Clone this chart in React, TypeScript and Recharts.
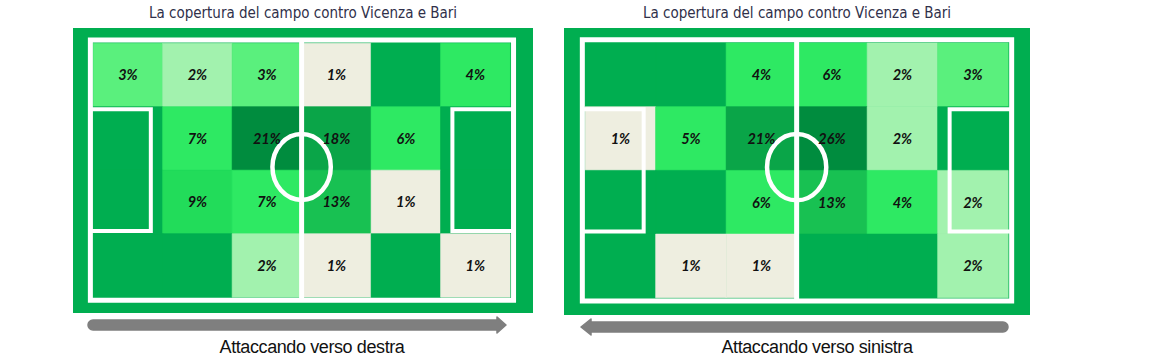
import React from 'react';
import {
  ComposedChart,
  XAxis,
  YAxis,
  ReferenceArea,
  ReferenceLine,
  ReferenceDot,
  Scatter,
} from 'recharts';

// percentuali per zona, righe dall'alto verso il basso (null = zona senza valore)
const destraRows: (number | null)[][] = [
  [3, 2, 3, 1, null, 4],
  [null, 7, 21, 18, 6, null],
  [null, 9, 7, 13, 1, null],
  [null, null, 2, 1, null, 1],
];

const sinistraRows: (number | null)[][] = [
  [null, null, 4, 6, 2, 3],
  [1, 5, 21, 26, 2, null],
  [null, null, 6, 13, 4, 2],
  [null, 1, 1, null, null, 2],
];

const TITLE = 'La copertura del campo contro Vicenza e Bari';
const CAPTION_DESTRA = 'Attaccando verso destra';
const CAPTION_SINISTRA = 'Attaccando verso sinistra';

const GRASS = '#00ae50';
const LINE = '#ffffff';
const H = 363;

function cellColor(v: number | null, max: number) {
  if (v == null) return GRASS;
  if (v === max) return '#008c3e';
  if (v >= 15) return '#0aa548';
  if (v >= 10) return '#18c152';
  if (v >= 8) return '#22dc5a';
  if (v >= 4) return '#2ee963';
  if (v === 3) return '#5af07d';
  if (v === 2) return '#a2f2ae';
  return '#eeeee0';
}

interface PitchProps {
  rows: (number | null)[][];
  left: number;
  width: number;
  bottom: number;
  xDomain: [number, number];
  yDomain: [number, number];
  caption: string;
  captionX: number;
  arrow: 'right' | 'left';
}

function Pitch({ rows, left, width, bottom, xDomain, yDomain, caption, captionX, arrow }: PitchProps) {
  const margin = { top: 28, right: 0, bottom, left: 0 };
  const max = Math.max(...rows.flat().map((v) => v ?? 0));
  const cells = rows.flatMap((row, r) => row.map((v, c) => ({ r, c, v })));
  const labels = cells
    .filter((d) => d.v != null)
    .map((d) => ({ x: d.c + 0.5, y: d.r + 0.5, text: `${d.v}%` }));
  const pxX = width / (xDomain[1] - xDomain[0]);
  const pxY = (H - margin.top - margin.bottom) / (yDomain[1] - yDomain[0]);

  return (
    <div style={{ position: 'absolute', left, top: 0, width, height: H }}>
      <div
        style={{
          position: 'absolute',
          left: 0,
          top: 4,
          width,
          textAlign: 'center',
          fontFamily: "'Liberation Sans Narrow', 'DejaVu Sans Condensed', sans-serif",
          fontSize: 15,
          color: '#30304a',
        }}
      >
        {TITLE}
      </div>
      <ComposedChart width={width} height={H} margin={margin}>
        <XAxis dataKey="x" type="number" domain={xDomain} hide />
        <YAxis dataKey="y" type="number" domain={yDomain} reversed hide />
        <ReferenceArea x1={xDomain[0]} x2={xDomain[1]} y1={yDomain[0]} y2={yDomain[1]} fill={GRASS} fillOpacity={1} stroke="none" />
        {cells.map((d) => (
          <ReferenceArea
            key={`${d.r}-${d.c}`}
            x1={d.c}
            x2={d.c + 1}
            y1={d.r}
            y2={d.r + 1}
            fill={cellColor(d.v, max)}
            fillOpacity={1}
            stroke={cellColor(d.v, max)}
            strokeWidth={0.6}
          />
        ))}
        <ReferenceArea x1={-0.04} x2={6.05} y1={-0.05} y2={4.05} fill="none" stroke={LINE} strokeWidth={5} />
        <ReferenceArea x1={-0.04} x2={0.83} y1={1.04} y2={2.96} fill="none" stroke={LINE} strokeWidth={4} />
        <ReferenceArea x1={5.17} x2={6.05} y1={1.04} y2={2.96} fill="none" stroke={LINE} strokeWidth={4} />
        <ReferenceLine segment={[{ x: 3, y: -0.05 }, { x: 3, y: 4.05 }]} stroke={LINE} strokeWidth={5} />
        <ReferenceDot
          x={3}
          y={1.95}
          shape={(p: any) => (
            <ellipse cx={p.cx} cy={p.cy} rx={0.42 * pxX} ry={0.52 * pxY} fill="none" stroke={LINE} strokeWidth={4.5} />
          )}
        />
        <Scatter
          data={labels}
          isAnimationActive={false}
          shape={(p: any) => (
            <text
              x={p.cx}
              y={p.cy}
              textAnchor="middle"
              dominantBaseline="central"
              fontFamily="Lato, 'Open Sans', sans-serif"
              fontWeight="bold"
              fontStyle="italic"
              fontSize={14.5}
              fill="#111"
            >
              {p.payload.text}
            </text>
          )}
        />
      </ComposedChart>
      <svg style={{ position: 'absolute', left: 0, top: 0 }} width={width} height={H}>
        {arrow === 'right' ? (
          <path
            d={`M 20 320 L ${width - 36} 320 L ${width - 36} 317 L ${width - 27} 325 L ${width - 36} 333 L ${width - 36} 330 L 20 330 A 5 5 0 0 1 20 320 Z`}
            fill="#7f7f7f"
            stroke="#7f7f7f"
            strokeWidth={1.5}
            strokeLinejoin="round"
          />
        ) : (
          <path
            d={`M ${width - 27} 322 L 27 322 L 27 319 L 17 327 L 27 335 L 27 332 L ${width - 27} 332 A 5 5 0 0 0 ${width - 27} 322 Z`}
            fill="#7f7f7f"
            stroke="#7f7f7f"
            strokeWidth={1.5}
            strokeLinejoin="round"
          />
        )}
      </svg>
      <div
        style={{
          position: 'absolute',
          left: captionX - left - 150,
          top: 337,
          width: 300,
          textAlign: 'center',
          fontFamily: "'Liberation Sans', Arial, sans-serif",
          fontSize: 18,
          letterSpacing: -0.4,
          color: '#111',
        }}
      >
        {caption}
      </div>
    </div>
  );
}

export default function App() {
  return (
    <div style={{ position: 'absolute', left: 0, top: 0, width: 1151, height: H, background: '#fff', overflow: 'hidden' }}>
      <Pitch
        rows={destraRows}
        left={73}
        width={460}
        bottom={50}
        xDomain={[-0.29, 6.33]}
        yDomain={[-0.24, 4.25]}
        caption={CAPTION_DESTRA}
        captionX={312}
        arrow="right"
      />
      <Pitch
        rows={sinistraRows}
        left={564}
        width={466}
        bottom={48}
        xDomain={[-0.3, 6.31]}
        yDomain={[-0.235, 4.27]}
        caption={CAPTION_SINISTRA}
        captionX={817}
        arrow="left"
      />
    </div>
  );
}
